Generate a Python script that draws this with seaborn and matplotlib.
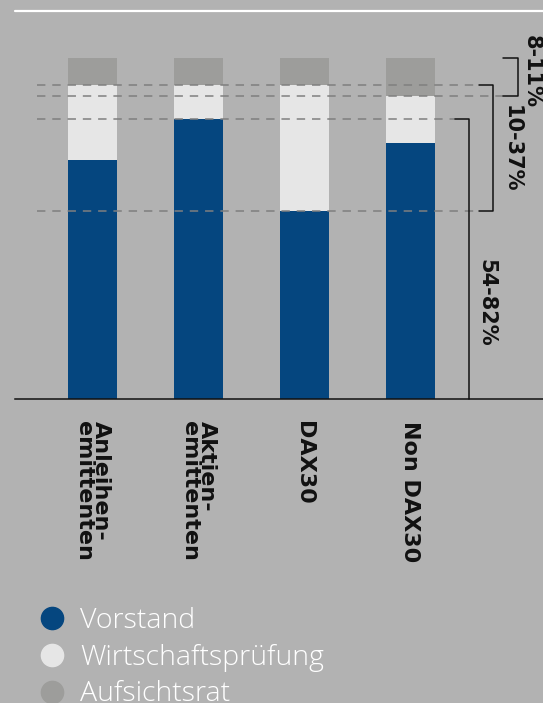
import numpy as np
import pandas as pd
import matplotlib.pyplot as plt
import seaborn as sns
from matplotlib.lines import Line2D

# data (percent of each bar)
categories = ["Anleihen-\nemittenten", "Aktien-\nemittenten", "DAX30", "Non DAX30"]
vorstand = [70, 82, 55, 75]
wirtschaftspruefung = [22, 10, 37, 14]
aufsichtsrat = [8, 8, 8, 11]
series_names = ["Vorstand", "Wirtschaftsprüfung", "Aufsichtsrat"]
range_labels = ["8-11%", "10-37%", "54-82%"]

bg = "#b2b2b2"
colors = {"Vorstand": "#05467f", "Wirtschaftsprüfung": "#e6e6e6", "Aufsichtsrat": "#9d9d9b"}

sns.set_theme(style="white")
plt.rcParams["font.family"] = ["DejaVu Sans"]

df = pd.DataFrame({
    "cat": categories,
    "Vorstand": vorstand,
    "Wirtschaftsprüfung": wirtschaftspruefung,
    "Aufsichtsrat": aufsichtsrat,
})
df["v"] = df["Vorstand"]
df["vw"] = df["Vorstand"] + df["Wirtschaftsprüfung"]
df["all"] = df["vw"] + df["Aufsichtsrat"]

W, H = 543, 703
fig = plt.figure(figsize=(W / 100, H / 100), dpi=100, facecolor=bg)
ax = fig.add_axes([15 / W, (H - 399) / H, (W - 15) / W, 341 / H])
ax.set_facecolor(bg)

# stacked bars, drawn from the top layer down
for col, name in [("all", "Aufsichtsrat"), ("vw", "Wirtschaftsprüfung"), ("v", "Vorstand")]:
    sns.barplot(data=df, x="cat", y=col, color=colors[name], saturation=1,
                width=0.462, ax=ax, zorder=2, linewidth=0, edgecolor="none")

ax.set_xlim(-0.731, 4.25)
ax.set_ylim(0, 100)
ax.set_xlabel("")
ax.set_ylabel("")
ax.set_yticks([])
for s in ["top", "left", "right"]:
    ax.spines[s].set_visible(False)
ax.spines["bottom"].set_color("#111111")
ax.spines["bottom"].set_linewidth(1.1)
ax.tick_params(axis="x", length=0, pad=16)
ax.set_xticks(range(len(categories)))
ax.set_xticklabels(categories, rotation=-90, ha="center", va="top", multialignment="left",
                   fontweight="bold", fontsize=16, color="#111111", linespacing=0.8)

# ranges and guide lines
vw = df["vw"].to_numpy()
v = df["v"].to_numpy()
x0 = -0.524
lk = dict(color="#111111", lw=1.1, clip_on=False, zorder=3)
dk = dict(color="#7f7f7f", lw=1.1, linestyle=(0, (5.5, 4.5)), clip_on=False, zorder=3)

# Aufsichtsrat bracket
xa, xa0 = 4.014, 3.873
ax.plot([x0, xa0], [vw.min(), vw.min()], **dk)
ax.plot([xa0, xa, xa, xa0], [100, 100, vw.min(), vw.min()], **lk)
# Wirtschaftspruefung bracket
xw, xw0 = 3.778, 3.646
ax.plot([x0, xw0], [vw.max(), vw.max()], **dk)
ax.plot([x0, xw0], [v.min(), v.min()], **dk)
ax.plot([xw0, xw, xw, xw0], [vw.max(), vw.max(), v.min(), v.min()], **lk)
# Vorstand bracket
xv, xv0 = 3.552, 3.420
ax.plot([x0, xv0], [v.max(), v.max()], **dk)
ax.plot([xv0, xv, xv], [v.max(), v.max(), 0], **lk)

tk = dict(rotation=-90, ha="center", va="center", fontweight="bold",
          fontsize=15, color="#111111", clip_on=False)
ax.text(4.145, 96.0, range_labels[0], **tk)
ax.text(3.950, 73.3, range_labels[1], **tk)
ax.text(3.715, 28.2, range_labels[2], **tk)

# white rule at the top
fig.add_artist(Line2D([15 / W, 1], [(H - 11) / H, (H - 11) / H], color="white", lw=1.6))

# legend
handles = [Line2D([], [], marker="o", linestyle="", markersize=16,
                  markerfacecolor=colors[n], markeredgecolor=colors[n]) for n in series_names]
leg = fig.legend(handles, series_names, loc="upper left", bbox_to_anchor=(12 / W, 1 - 596 / H),
                 frameon=False, handletextpad=0.0, labelspacing=0.3, borderaxespad=0,
                 prop={"family": "Open Sans", "weight": "light", "size": 20.5})
for t in leg.get_texts():
    t.set_color("white")

fig.savefig("out.png", dpi=100, facecolor=bg)
